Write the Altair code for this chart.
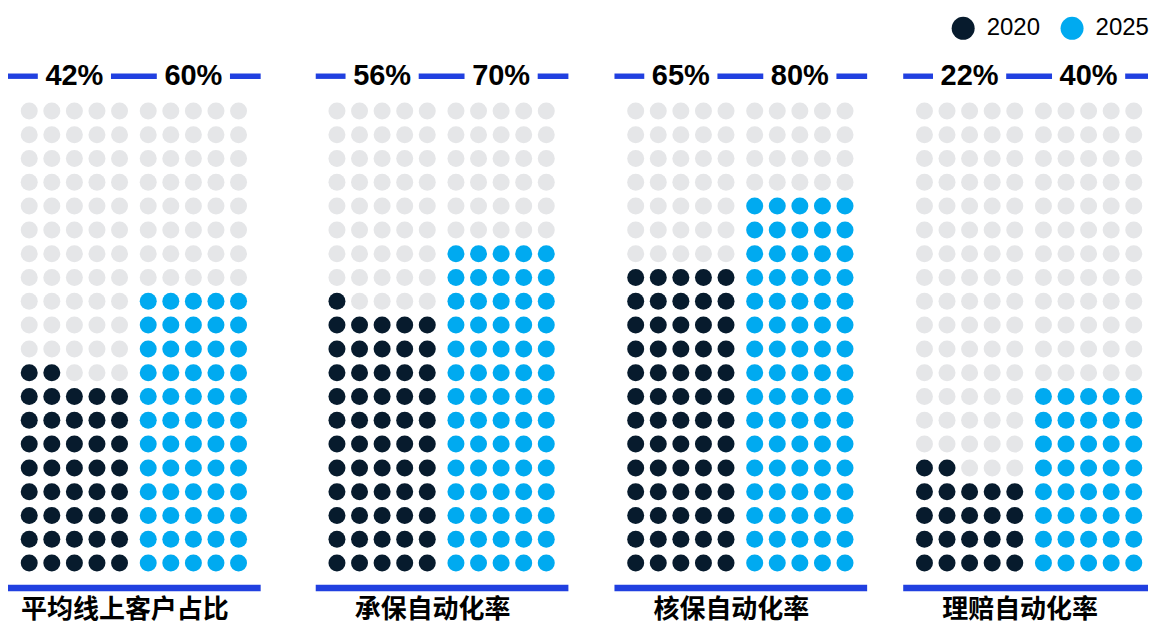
import altair as alt
import pandas as pd

# ---------------- data ----------------
categories = ["平均线上客户占比", "承保自动化率", "核保自动化率", "理赔自动化率"]
series = ["2020", "2025"]
values_2020 = [42, 56, 65, 22]
values_2025 = [60, 70, 80, 40]

# ---------------- layout / style ----------------
panel_widths = [308, 299, 289, 245]   # page panels (px)
HEIGHT = 616
COL_PX = 22.6          # horizontal dot step (px)
ROW_PX = 23.82         # vertical dot step (px)
BLOCK_STEP = 5.27      # offset of second block, in dot steps
LEFT_U = 0.94          # panel left edge to first dot, in dot steps
RIGHT_U = 0.98         # last dot to end of rules, in dot steps
LABEL_HALF_U = 1.62    # half width of % label + gap, in dot steps
ROW0_Y = 555.3         # chart y of bottom dot row (px)
TOP_BAR_Y, TOP_BAR_H = 68.0, 5.4       # chart px
BOT_BAR_Y, BOT_BAR_H = 580.3, 6.6      # chart px
LABEL_Y = 602.0                        # chart px

COLORS = {"2020": "#071B2D", "2025": "#00AAF0", "empty": "#E5E6E8"}
LINE_COLOR = "#2140E0"


def yu(px):
    """chart pixel -> row units"""
    return (ROW0_Y - px) / ROW_PX


y_dom = [yu(HEIGHT), yu(0)]

color_scale = alt.Scale(domain=["2020", "2025", "empty"],
                        range=[COLORS["2020"], COLORS["2025"], COLORS["empty"]])


def panel(i):
    w = panel_widths[i]
    x_max = -LEFT_U + w / COL_PX
    xs = alt.Scale(domain=[-LEFT_U, x_max], nice=False, zero=False)
    ys = alt.Scale(domain=y_dom, nice=False, zero=False)

    vals = [values_2020[i], values_2025[i]]
    rows = []
    for b, (s, v) in enumerate(zip(series, vals)):
        for k in range(100):
            rows.append({"x": b * BLOCK_STEP + k % 5, "row": k // 5,
                         "status": s if k < v else "empty"})
    dots_df = pd.DataFrame(rows)

    centers = [2, BLOCK_STEP + 2]
    end_x = min(BLOCK_STEP + 4 + RIGHT_U, x_max)
    bars_df = pd.DataFrame({
        "x": [-LEFT_U, centers[0] + LABEL_HALF_U, centers[1] + LABEL_HALF_U, -LEFT_U],
        "x2": [centers[0] - LABEL_HALF_U, centers[1] - LABEL_HALF_U, end_x, end_x],
        "y": [yu(TOP_BAR_Y - TOP_BAR_H / 2)] * 3 + [yu(BOT_BAR_Y - BOT_BAR_H / 2)],
        "y2": [yu(TOP_BAR_Y + TOP_BAR_H / 2)] * 3 + [yu(BOT_BAR_Y + BOT_BAR_H / 2)],
    })
    pct_df = pd.DataFrame({"x": centers, "y": [yu(TOP_BAR_Y)] * 2,
                           "t": [f"{v}%" for v in vals]})
    cat_df = pd.DataFrame({"x": [(centers[0] + centers[1]) / 2],
                           "y": [yu(LABEL_Y)], "t": [categories[i]]})

    if i == 3:
        legend = alt.Legend(values=["2020", "2025"], orient="none",
                            legendX=48, legendY=8, direction="horizontal",
                            title=None, symbolType="circle", symbolSize=529,
                            symbolStrokeWidth=0, symbolOpacity=1,
                            labelFontSize=24, labelFont="Liberation Sans",
                            labelColor="#000000", labelOffset=11.5,
                            columnPadding=20, padding=0)
    else:
        legend = None

    dots = alt.Chart(dots_df).mark_circle(size=289, opacity=1).encode(
        x=alt.X("x:Q", scale=xs, axis=None),
        y=alt.Y("row:Q", scale=ys, axis=None),
        color=alt.Color("status:N", scale=color_scale, legend=legend),
    )
    bars = alt.Chart(bars_df).mark_rect(color=LINE_COLOR).encode(
        x="x:Q", x2="x2:Q", y="y:Q", y2="y2:Q")
    pct = alt.Chart(pct_df).mark_text(font="Liberation Sans", fontWeight="bold",
                                      fontSize=29, color="#000000",
                                      align="center", baseline="middle").encode(
        x="x:Q", y="y:Q", text="t:N")
    cat = alt.Chart(cat_df).mark_text(font="Noto Sans CJK SC", fontWeight="bold",
                                      fontSize=26, color="#000000", dx=-9,
                                      align="center", baseline="middle").encode(
        x="x:Q", y="y:Q", text="t:N")

    return alt.layer(dots, bars, pct, cat).properties(width=w, height=HEIGHT)


chart = alt.hconcat(*[panel(i) for i in range(4)], spacing=0, bounds="flush",
                    padding=0, background="#ffffff").resolve_legend(
    color="independent").configure_view(strokeWidth=0)

chart.save("out.html", embed_options={"renderer": "svg", "actions": False})
